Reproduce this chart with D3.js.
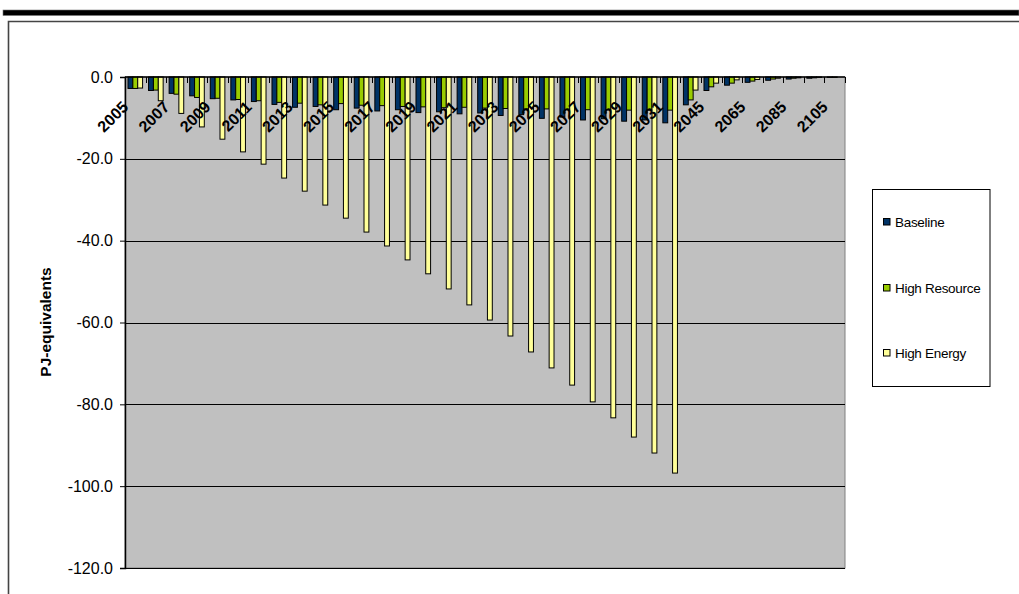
<!DOCTYPE html>
<html>
<head>
<meta charset="utf-8">
<script src="https://cdn.jsdelivr.net/npm/d3@7"></script>
<style>
  body { margin: 0; background: #fff; }
  svg { display: block; font-family: "Liberation Sans", Arial, sans-serif; }
</style>
</head>
<body>
<svg id="chart" width="1019" height="594"></svg>
<script>
// Categories: yearly to 2031, then ten-year steps
const years = [
  "2005","2006","2007","2008","2009","2010","2011","2012","2013","2014",
  "2015","2016","2017","2018","2019","2020","2021","2022","2023","2024",
  "2025","2026","2027","2028","2029","2030","2031",
  "2035","2045","2055","2065","2075","2085","2095","2105"
];

// PJ-equivalents per scenario
const baseline = [
  -2.8,-3.3,-4.0,-4.6,-5.3,-5.6,-6.0,-6.7,-7.4,-7.2,
  -8.0,-7.6,-8.3,-8.0,-8.7,-8.5,-9.0,-8.8,-9.4,-9.2,
  -10.1,-9.8,-10.5,-10.2,-10.8,-10.5,-11.2,
  -6.8,-3.3,-2.0,-1.3,-0.8,-0.5,-0.3,-0.1
];
const highResource = [
  -2.8,-3.2,-4.2,-5.0,-5.2,-5.5,-5.8,-6.2,-6.4,-6.8,
  -6.5,-6.9,-7.0,-7.2,-7.3,-7.5,-7.4,-7.6,-7.7,-7.8,
  -7.8,-7.9,-8.0,-8.0,-8.1,-8.1,-8.1,
  -5.6,-2.4,-1.5,-1.0,-0.5,-0.3,-0.2,-0.1
];
const highEnergy = [
  -2.7,-5.8,-8.9,-12.2,-15.2,-18.3,-21.3,-24.7,-27.9,-31.3,
  -34.5,-37.9,-41.3,-44.7,-48.1,-51.8,-55.7,-59.4,-63.3,-67.2,
  -71.1,-75.3,-79.4,-83.3,-88.0,-91.9,-96.8,
  -3.2,-1.5,-0.7,-0.6,-0.3,-0.2,-0.1,0
];

const seriesNames = ["Baseline", "High Resource", "High Energy"];
const seriesValues = [baseline, highResource, highEnergy];
const seriesColors = ["#003366", "#99cc00", "#ffff99"];
const yTicks = [0, -20, -40, -60, -80, -100, -120];

const svg = d3.select("#chart");

// page header rule and chart frame
svg.append("rect").attr("x", 3).attr("y", 10).attr("width", 1016).attr("height", 5.5)
  .attr("fill", "#000").attr("stroke", "#777").attr("stroke-width", 0.6);
svg.append("path").attr("d", "M8.5,600 V21.5 H1019")
  .attr("fill", "none").attr("stroke", "#444").attr("stroke-width", 1.6);

const plot = { left: 125, right: 845, top: 77, bottom: 568 };

const x = d3.scaleBand().domain(years).range([plot.left, plot.right]).padding(0);
const groupW = 14.6;
const x1 = d3.scaleBand().domain(seriesNames)
  .range([(x.bandwidth() - groupW) / 2, (x.bandwidth() + groupW) / 2]).padding(0);
const y = d3.scaleLinear().domain([0, -120]).range([plot.top, plot.bottom]);

// plot background
svg.append("rect")
  .attr("x", plot.left).attr("y", plot.top)
  .attr("width", plot.right - plot.left).attr("height", plot.bottom - plot.top)
  .attr("fill", "#c0c0c0").attr("stroke", "#808080").attr("stroke-width", 1);

// horizontal gridlines
svg.append("g").selectAll("line").data(yTicks.filter(d => d !== 0)).join("line")
  .attr("x1", plot.left).attr("x2", plot.right)
  .attr("y1", d => Math.round(y(d)) + 0.5).attr("y2", d => Math.round(y(d)) + 0.5)
  .attr("stroke", "#000").attr("stroke-width", 1);

// bars
const rows = years.map((yr, i) => ({ year: yr, vals: seriesValues.map((s, k) => ({ name: seriesNames[k], v: s[i], c: seriesColors[k] })) }));
const groups = svg.append("g").selectAll("g").data(rows).join("g")
  .attr("transform", d => `translate(${x(d.year)},0)`);
groups.selectAll("rect").data(d => d.vals.filter(e => e.v < 0)).join("rect")
  .attr("x", d => x1(d.name))
  .attr("y", y(0))
  .attr("width", x1.bandwidth())
  .attr("height", d => y(d.v) - y(0))
  .attr("fill", d => d.c)
  .attr("stroke", "#000").attr("stroke-width", 1);

// category axis along the zero line (ticks at category boundaries)
svg.append("line").attr("x1", plot.left).attr("x2", plot.right)
  .attr("y1", y(0)).attr("y2", y(0)).attr("stroke", "#000").attr("stroke-width", 1.5);
svg.append("g").selectAll("line").data(d3.range(years.length + 1)).join("line")
  .attr("x1", i => Math.round(plot.left + i * x.step()) + 0.5)
  .attr("x2", i => Math.round(plot.left + i * x.step()) + 0.5)
  .attr("y1", y(0)).attr("y2", y(0) + 6)
  .attr("stroke", "#000").attr("stroke-width", 1);

svg.append("g").selectAll("text").data(years.filter((d, i) => i % 2 === 0)).join("text")
  .attr("transform", d => `translate(${x(d) + x.bandwidth() / 2 - 6},${y(0) + 31}) rotate(-45)`)
  .attr("text-anchor", "end")
  .attr("font-size", 16).attr("font-weight", "bold").attr("fill", "#000")
  .text(d => d);

// value axis
const yAxis = d3.axisLeft(y).tickValues(yTicks).tickSize(5).tickPadding(7)
  .tickFormat(d => d.toFixed(1));
const ya = svg.append("g").attr("transform", `translate(${plot.left},0)`).call(yAxis);
ya.select(".domain").attr("stroke", "#000").attr("stroke-width", 1.5);
ya.selectAll(".tick line").attr("stroke", "#000");
ya.selectAll(".tick text").attr("font-size", 16).attr("font-family", "Liberation Sans, Arial, sans-serif").attr("fill", "#000");

svg.append("text")
  .attr("transform", "translate(51,322) rotate(-90)")
  .attr("text-anchor", "middle").attr("font-size", 15.5).attr("font-weight", "bold")
  .text("PJ-equivalents");

// legend
const lg = svg.append("g");
lg.append("rect").attr("x", 872.5).attr("y", 189.5).attr("width", 117.5).attr("height", 197)
  .attr("fill", "#fff").attr("stroke", "#000").attr("stroke-width", 1);
const legendY = [222, 288, 353];
seriesNames.forEach((n, k) => {
  lg.append("rect").attr("x", 883.5).attr("y", legendY[k] - 3.5).attr("width", 6.5).attr("height", 6.5)
    .attr("fill", seriesColors[k]).attr("stroke", "#000").attr("stroke-width", 1);
  lg.append("text").attr("x", 895).attr("y", legendY[k] + 4.5)
    .attr("font-size", 13.5).attr("letter-spacing", -0.3).attr("fill", "#000").text(n);
});
</script>
</body>
</html>
